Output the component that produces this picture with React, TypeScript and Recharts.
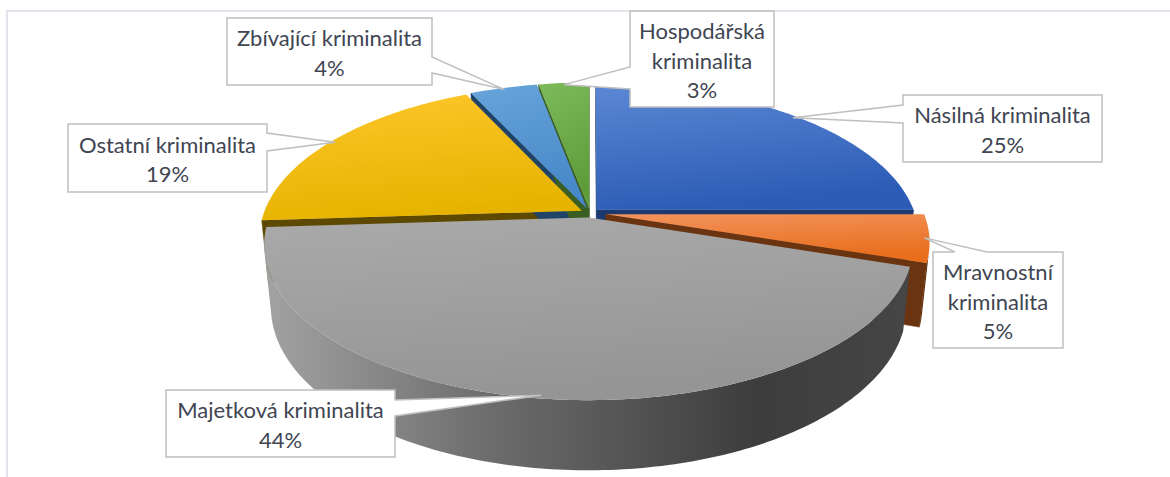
import React from 'react';
import { PieChart, Pie, Tooltip } from 'recharts';

// drawing order: back-left slices first, big front slice last (clockwise)
const categories = [
  'Ostatní kriminalita',
  'Zbívající kriminalita',
  'Hospodářská kriminalita',
  'Násilná kriminalita',
  'Mravnostní kriminalita',
  'Majetková kriminalita',
];
const shares = [19, 4, 3, 25, 5, 44];
// how many of the slices above lie left of 12 o'clock
const slicesBeforeTop = 3;

const data = categories.map((name, i) => ({ name, value: shares[i] }));
const total = shares.reduce((a, b) => a + b, 0);
const startAngle = 90 + (shares.slice(0, slicesBeforeTop).reduce((a, b) => a + b, 0) / total) * 360;

// 3d view
const TILT = (28 * Math.PI) / 180;
const DIST = 5.09;
const THICK = 0.224;
const SIN_T = Math.sin(TILT);
const COS_T = Math.cos(TILT);
const CAM = { x: 0, z: -DIST * COS_T };

const EXPLODE_DEFAULT = 0.03;
const EXPLODE: Record<string, number> = { 'Mravnostní kriminalita': 0.05 };

const STYLE: Record<string, { top: [string, string]; side: string; wall: string }> = {
  'Násilná kriminalita': { top: ['#5d88d5', '#2c5cb5'], side: '#1d3a70', wall: '#213f78' },
  'Mravnostní kriminalita': { top: ['#f2935c', '#e86e1c'], side: '#6b3411', wall: '#5e2c0a' },
  'Majetková kriminalita': { top: ['#aaaaaa', '#959595'], side: '#6e6e6e', wall: 'url(#wallGrey)' },
  'Ostatní kriminalita': { top: ['#ffc62c', '#e6b400'], side: '#5e4900', wall: '#6a5300' },
  'Zbívající kriminalita': { top: ['#68a4db', '#4788c8'], side: '#1f4468', wall: '#264f78' },
  'Hospodářská kriminalita': { top: ['#7dba5b', '#5e9c3a'], side: '#3a5f22', wall: '#3a5f22' },
};

const CALLOUTS: Record<string, { x: number; y: number; w: number; h: number; side: 'left' | 'right' | 'top'; at: number; base: number; wrap?: boolean }> = {
  'Ostatní kriminalita': { x: 68, y: 124, w: 199, h: 68, side: 'right', at: 18, base: 18 },
  'Zbívající kriminalita': { x: 227, y: 18, w: 205, h: 67, side: 'right', at: 47, base: 16 },
  'Hospodářská kriminalita': { x: 630, y: 11, w: 144, h: 96, side: 'left', at: 67, base: 22, wrap: true },
  'Násilná kriminalita': { x: 903, y: 95, w: 199, h: 67, side: 'left', at: 19, base: 18 },
  'Mravnostní kriminalita': { x: 933, y: 252, w: 130, h: 96, side: 'top', at: 38, base: 32, wrap: true },
  'Majetková kriminalita': { x: 166, y: 390, w: 229, h: 67, side: 'right', at: 18, base: 16 },
};

type Pt = [number, number];
const rad = (d: number) => (d * Math.PI) / 180;

function project(cx: number, cy: number, k: number, x: number, y: number, z: number): Pt {
  const depth = -y * SIN_T + z * COS_T;
  const up = y * COS_T + z * SIN_T;
  const s = DIST / (DIST + depth);
  return [cx + k * x * s, cy - k * up * s];
}

const facing = (nx: number, nz: number, px: number, pz: number) =>
  nx * (CAM.x - px) + nz * (CAM.z - pz) > 0;

const toPath = (pts: Pt[]) =>
  'M' + pts.map((p) => `${p[0].toFixed(2)},${p[1].toFixed(2)}`).join('L') + 'Z';

function geometry(props: any) {
  const { cx, cy, outerRadius: k, startAngle: a0, endAngle: a1, midAngle } = props;
  const name: string = props.payload?.name ?? props.name;
  const e = EXPLODE[name] ?? EXPLODE_DEFAULT;
  const m = rad(midAngle);
  const ox = e * Math.cos(m);
  const oz = e * Math.sin(m);
  const steps = Math.max(2, Math.ceil(Math.abs(a1 - a0)));
  const angles = Array.from({ length: steps + 1 }, (_, i) => a0 + ((a1 - a0) * i) / steps);
  const P = (deg: number, y: number, r = 1): Pt =>
    project(cx, cy, k, ox + r * Math.cos(rad(deg)), y, oz + r * Math.sin(rad(deg)));
  const C = (y: number): Pt => project(cx, cy, k, ox, y, oz);
  return { name, a0, a1, m, ox, oz, angles, P, C };
}

function SliceSides(props: any) {
  const { name, a0, a1, m, ox, oz, angles, P, C } = geometry(props);
  const st = STYLE[name];
  const faces: React.ReactNode[] = [];
  [a0, a1].forEach((phi, i) => {
    const t = rad(phi);
    let nx = -Math.sin(t);
    let nz = Math.cos(t);
    if (nx * Math.cos(m) + nz * Math.sin(m) > 0) {
      nx = -nx;
      nz = -nz;
    }
    if (facing(nx, nz, ox, oz)) {
      faces.push(
        <path key={'r' + i} d={toPath([C(0), P(phi, 0), P(phi, -THICK), C(-THICK)])} fill={st.side} stroke={st.side} strokeWidth={0.5} />
      );
    }
  });
  const vis = angles.filter((a) => {
    const t = rad(a);
    return facing(Math.cos(t), Math.sin(t), ox + Math.cos(t), oz + Math.sin(t));
  });
  if (vis.length > 1) {
    const pts = [...vis.map((a) => P(a, 0)), ...vis.slice().reverse().map((a) => P(a, -THICK))];
    faces.push(<path key="w" d={toPath(pts)} fill={st.wall} stroke="none" />);
  }
  return <g>{faces}</g>;
}

function SliceTop(props: any) {
  const { name, angles, P, C } = geometry(props);
  const id = 'top' + categories.indexOf(name);
  return <path d={toPath([C(0), ...angles.map((a) => P(a, 0))])} fill={`url(#${id})`} stroke="none" />;
}

function Callout(props: any) {
  const name: string = props.payload?.name ?? props.name;
  const box = CALLOUTS[name];
  if (!box) return null;
  const { P } = geometry(props);
  const tip = P(props.midAngle, 0, 0.985);
  const { x, y, w, h, at, base } = box;
  let pts: Pt[];
  if (box.side === 'right') {
    pts = [[x, y], [x + w, y], [x + w, y + at - base / 2], tip, [x + w, y + at + base / 2], [x + w, y + h], [x, y + h]];
  } else if (box.side === 'left') {
    pts = [[x, y], [x + w, y], [x + w, y + h], [x, y + h], [x, y + at + base / 2], tip, [x, y + at - base / 2]];
  } else {
    pts = [[x, y], [x + at - base / 2, y], tip, [x + at + base / 2, y], [x + w, y], [x + w, y + h], [x, y + h]];
  }
  const pct = `${Math.round(props.percent * 100)}%`;
  const lines = box.wrap ? [...name.split(' '), pct] : [name, pct];
  const gap = 29.5;
  const y0 = y + h / 2 - ((lines.length - 1) * gap) / 2;
  return (
    <g>
      <path d={toPath(pts)} fill="#ffffff" stroke="#bfbfbf" strokeWidth={1.5} strokeLinejoin="miter" />
      {lines.map((t, i) => (
        <text
          key={i}
          x={x + w / 2}
          y={y0 + i * gap + 1}
          textAnchor="middle"
          dominantBaseline="central"
          fontFamily="Lato, 'Open Sans', sans-serif"
          fontSize={22}
          fill="#404552"
        >
          {t}
        </text>
      ))}
    </g>
  );
}

export default function App() {
  return (
    <div style={{ position: 'absolute', left: 0, top: 0, width: 1170, height: 477, background: '#ffffff', overflow: 'hidden' }}>
      <div
        style={{
          position: 'absolute',
          left: 6,
          top: 10,
          width: 1200,
          height: 500,
          borderTop: '2px solid #e1e4ea',
          borderLeft: '2px solid #e1e4ea',
        }}
      />
      <div style={{ position: 'absolute', left: 0, top: 0 }}>
        <PieChart width={1170} height={477} margin={{ top: 0, right: 0, bottom: 0, left: 0 }}>
          <defs>
            {categories.map((c, i) => (
              <linearGradient key={c} id={'top' + i} x1="0" y1="0" x2="0.25" y2="1">
                <stop offset="0%" stopColor={STYLE[c].top[0]} />
                <stop offset="100%" stopColor={STYLE[c].top[1]} />
              </linearGradient>
            ))}
            <linearGradient id="wallGrey" gradientUnits="userSpaceOnUse" x1="262" y1="0" x2="920" y2="0">
              <stop offset="0%" stopColor="#a3a3a3" />
              <stop offset="35%" stopColor="#6c6c6c" />
              <stop offset="75%" stopColor="#3d3d3d" />
              <stop offset="100%" stopColor="#464646" />
            </linearGradient>
          </defs>
          <Tooltip defaultIndex={0} content={() => null} cursor={false} />
          <Pie
            data={data}
            dataKey="value"
            nameKey="name"
            cx={590}
            cy={213}
            outerRadius={318}
            startAngle={startAngle}
            endAngle={startAngle - 360}
            stroke="none"
            shape={SliceSides}
            activeShape={SliceSides}
            inactiveShape={SliceSides}
            isAnimationActive={false}
          />
          <Pie
            data={data}
            dataKey="value"
            nameKey="name"
            cx={590}
            cy={213}
            outerRadius={318}
            startAngle={startAngle}
            endAngle={startAngle - 360}
            stroke="none"
            shape={SliceTop}
            activeShape={SliceTop}
            inactiveShape={SliceTop}
            label={Callout}
            labelLine={false}
            isAnimationActive={false}
          />
        </PieChart>
      </div>
    </div>
  );
}
